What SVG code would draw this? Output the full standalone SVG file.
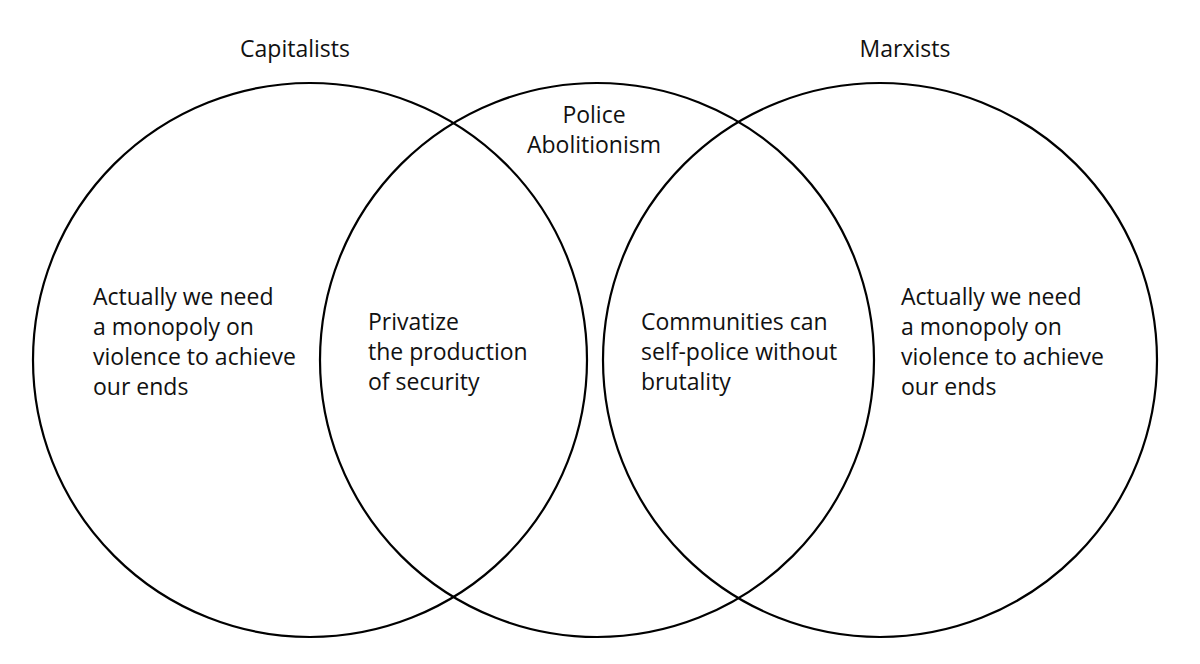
<svg xmlns="http://www.w3.org/2000/svg" width="1200" height="664" viewBox="0 0 1200 664">
<style>
.c{fill:none;stroke:#000;stroke-width:2.2}
.t{font-family:"Open Sans","Noto Sans","Liberation Sans",sans-serif;font-size:23px;fill:#111}
.m{text-anchor:middle}
</style>
<rect width="1200" height="664" fill="#fff"/>
<g id="capitalists">
<circle class="c" cx="310" cy="360" r="277"/>
<text class="t m" x="295" y="57">Capitalists</text>
<text class="t" x="93" y="305">Actually we need</text>
<text class="t" x="93" y="335">a monopoly on</text>
<text class="t" x="93" y="365">violence to achieve</text>
<text class="t" x="93" y="395">our ends</text>
</g>
<g id="police-abolitionism">
<circle class="c" cx="597" cy="360" r="277"/>
<text class="t m" x="594" y="123">Police</text>
<text class="t m" x="594" y="153">Abolitionism</text>
</g>
<g id="marxists">
<circle class="c" cx="880" cy="360" r="277"/>
<text class="t m" x="905" y="57">Marxists</text>
<text class="t" x="901" y="305">Actually we need</text>
<text class="t" x="901" y="335">a monopoly on</text>
<text class="t" x="901" y="365">violence to achieve</text>
<text class="t" x="901" y="395">our ends</text>
</g>
<g id="capitalists-police">
<text class="t" x="368" y="330">Privatize</text>
<text class="t" x="368" y="360">the production</text>
<text class="t" x="368" y="390">of security</text>
</g>
<g id="police-marxists">
<text class="t" x="641" y="330">Communities can</text>
<text class="t" x="641" y="360">self-police without</text>
<text class="t" x="641" y="390">brutality</text>
</g>
<g id="connectors"></g>
</svg>
